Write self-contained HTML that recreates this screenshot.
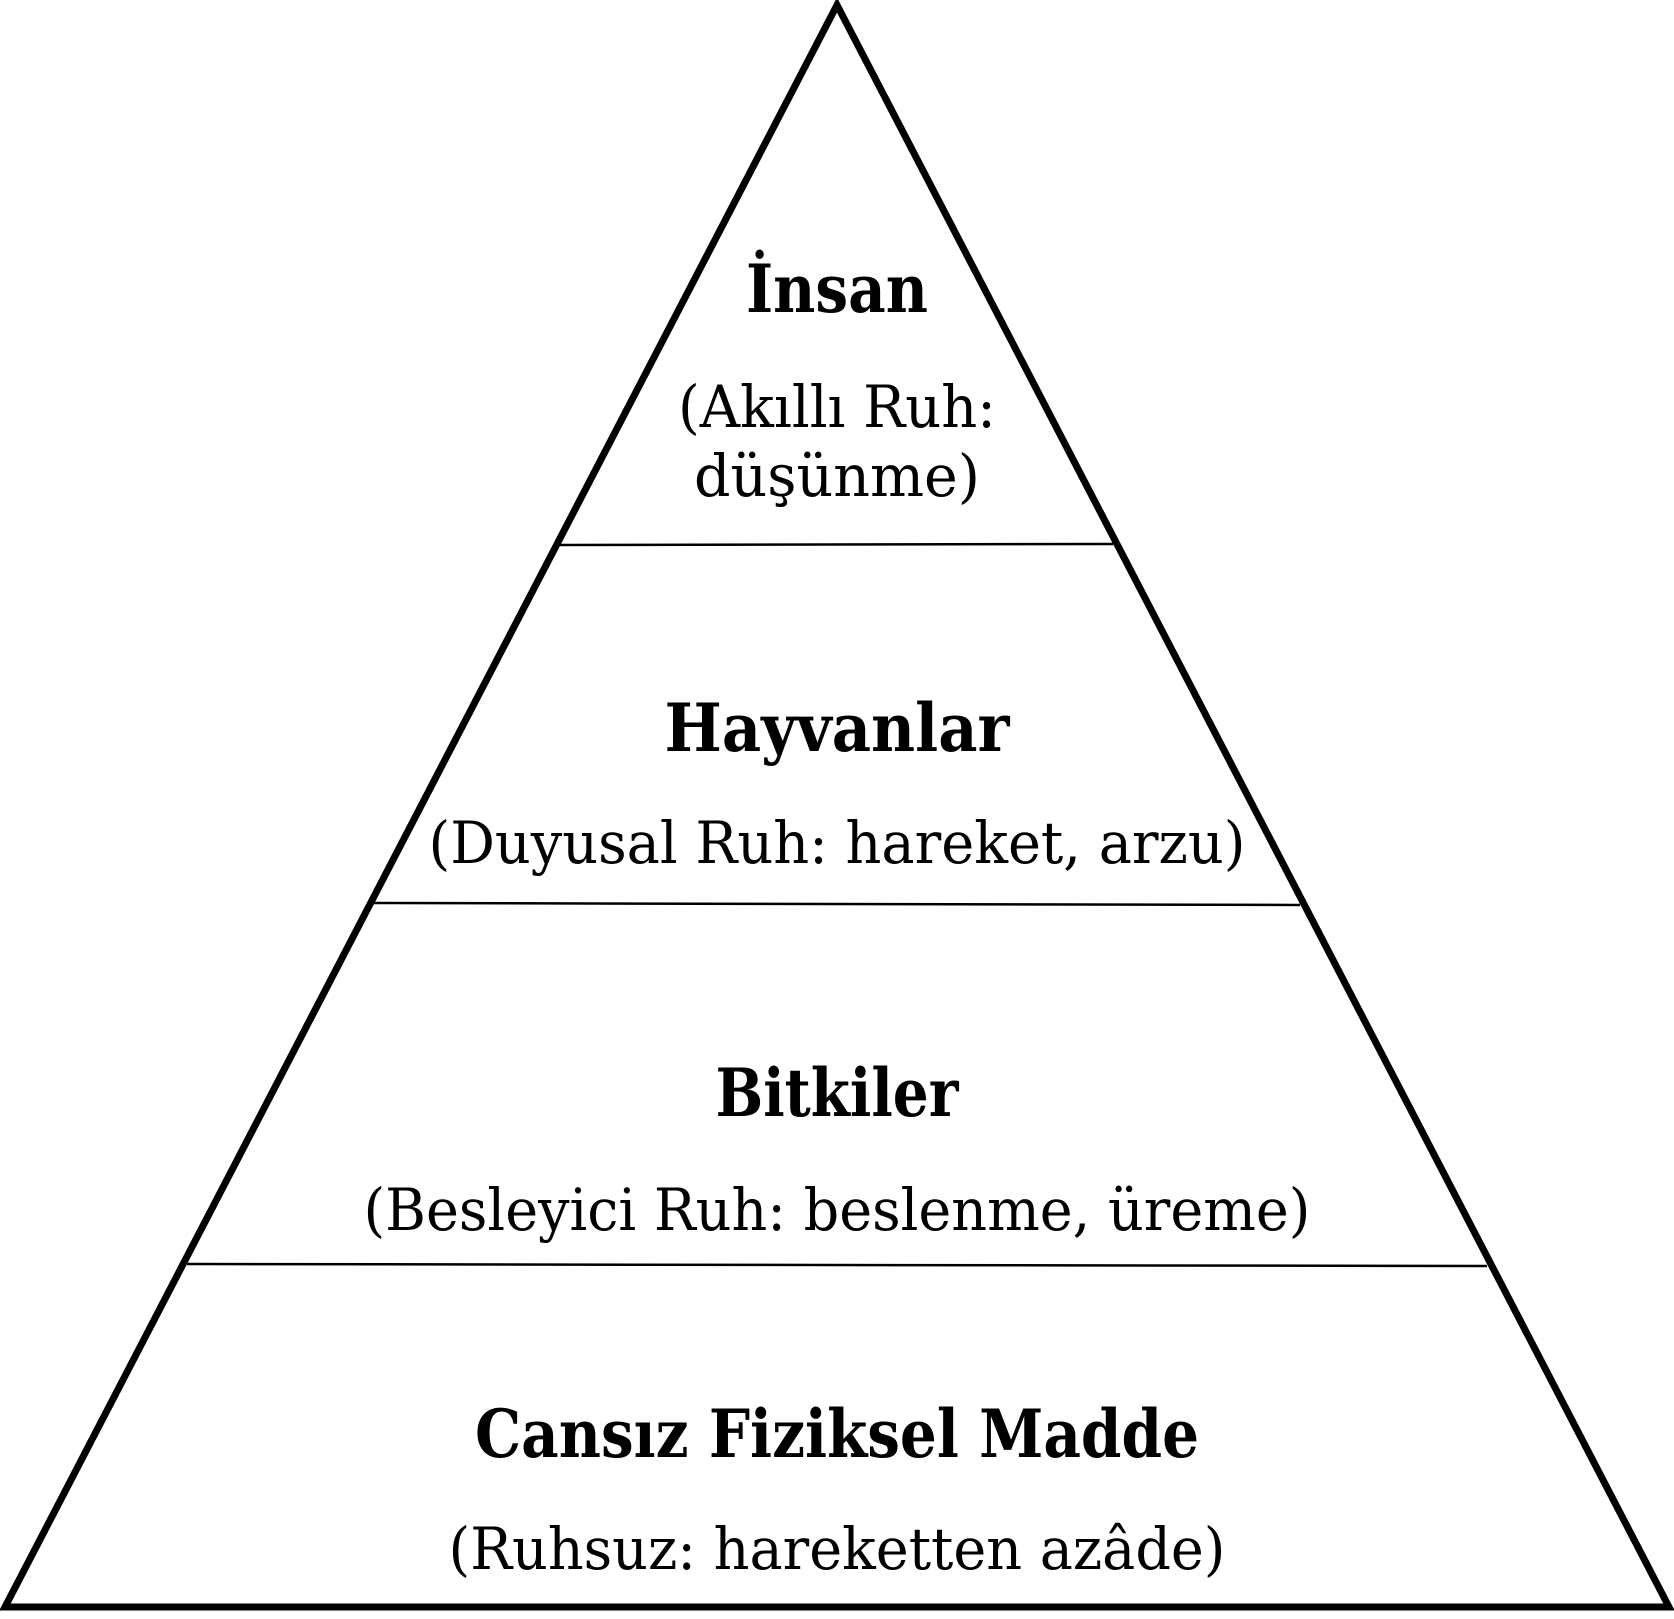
<!DOCTYPE html>
<html><head><meta charset="utf-8"><style>html,body{margin:0;padding:0;background:#fff}</style></head>
<body>
<svg width="1674" height="1614" viewBox="0 0 1674 1614" xmlns="http://www.w3.org/2000/svg">
<rect width="1674" height="1614" fill="#fff"/>
<polygon points="837,5 5,1607 1669,1607" fill="none" stroke="#000" stroke-width="7" stroke-linejoin="miter"/>
<line x1="559" y1="545" x2="1113" y2="544" stroke="#000" stroke-width="2.5"/>
<line x1="374" y1="903" x2="1300" y2="905" stroke="#000" stroke-width="2.5"/>
<line x1="187" y1="1264" x2="1487" y2="1266" stroke="#000" stroke-width="2.5"/>
<g font-family="'DejaVu Serif','Liberation Serif',serif" fill="#000" text-anchor="middle">
<text x="837" y="312" font-size="66" font-weight="bold" textLength="182" lengthAdjust="spacingAndGlyphs">İnsan</text>
<text x="837" y="427" font-size="58" textLength="318" lengthAdjust="spacingAndGlyphs">(Akıllı Ruh:</text>
<text x="837" y="496" font-size="58" textLength="286" lengthAdjust="spacingAndGlyphs">düşünme)</text>
<text x="837" y="751" font-size="66" font-weight="bold" textLength="345" lengthAdjust="spacingAndGlyphs">Hayvanlar</text>
<text x="837" y="863" font-size="58" textLength="817" lengthAdjust="spacingAndGlyphs">(Duyusal Ruh: hareket, arzu)</text>
<text x="837" y="1116" font-size="66" font-weight="bold" textLength="243" lengthAdjust="spacingAndGlyphs">Bitkiler</text>
<text x="837" y="1230" font-size="58" textLength="947" lengthAdjust="spacingAndGlyphs">(Besleyici Ruh: beslenme, üreme)</text>
<text x="837" y="1457" font-size="66" font-weight="bold" textLength="724" lengthAdjust="spacingAndGlyphs">Cansız Fiziksel Madde</text>
<text x="837" y="1569" font-size="58" textLength="777" lengthAdjust="spacingAndGlyphs">(Ruhsuz: hareketten azâde)</text>
</g>
</svg>
</body></html>
